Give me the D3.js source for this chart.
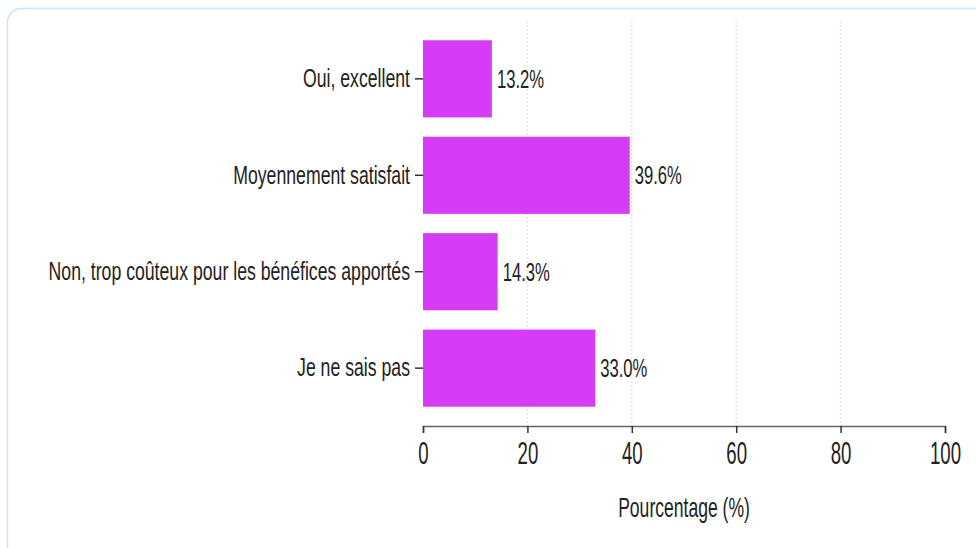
<!DOCTYPE html>
<html><head><meta charset="utf-8">
<script src="https://cdn.jsdelivr.net/npm/d3@7"></script>
<style>
html,body{margin:0;padding:0;background:#fff;}
svg{display:block;}
text{font-family:"Liberation Sans",Arial,sans-serif;fill:#222;}
</style></head>
<body>
<svg id="chart" width="976" height="548"></svg>
<script>
const categories = ["Oui, excellent","Moyennement satisfait","Non, trop coûteux pour les bénéfices apportés","Je ne sais pas"];
const values = [13.2, 39.6, 14.3, 33.0];
const xTicks = [0,20,40,60,80,100];
const xLabel = "Pourcentage (%)";

// horizontally condense text (reference uses a narrow, tall face)
function condense(sel, sx){
  sel.each(function(){
    const t = d3.select(this);
    const x0 = +(t.attr("x") || 0);
    t.attr("x", x0/sx).attr("transform", (t.attr("transform")||"") + ` scale(${sx},1)`);
  });
}

const svg = d3.select("#chart");
svg.append("rect").attr("x",7.5).attr("y",8.5).attr("width",1000).attr("height",600)
  .attr("rx",14).attr("fill","#fff").attr("stroke","#c6e6f7").attr("stroke-width",1.5);

const x = d3.scaleLinear().domain([0,100]).range([423,945]);
const y = d3.scaleBand().domain(categories).range([21,426]).padding(0.2);

const g = svg.append("g");
g.selectAll("line.grid").data(xTicks.slice(1,-1)).join("line")
  .attr("x1",d=>x(d)).attr("x2",d=>x(d)).attr("y1",21).attr("y2",426)
  .attr("stroke","#e6e6e6").attr("stroke-width",1.5).attr("stroke-dasharray","2,2");

g.selectAll("rect.bar").data(values).join("rect")
  .attr("x",x(0)).attr("y",(d,i)=>y(categories[i]))
  .attr("width",d=>x(d)-x(0)).attr("height",y.bandwidth())
  .attr("fill","#d63cf6");

const vals = g.selectAll("text.val").data(values).join("text")
  .attr("x",d=>x(d)+5).attr("y",(d,i)=>y(categories[i])+y.bandwidth()/2)
  .attr("dy","0.35em").attr("font-size",26).text(d=>d.toFixed(1)+"%");
condense(vals, 0.64);

const xAxis = svg.append("g").attr("transform","translate(0,426)")
  .call(d3.axisBottom(x).tickValues(xTicks).tickSize(7).tickPadding(9));
xAxis.select(".domain").attr("stroke","#666").attr("stroke-width",1.5);
xAxis.selectAll(".tick line").attr("stroke","#333").attr("stroke-width",1.5);
xAxis.selectAll(".tick text").attr("font-size",31).attr("font-family",null).attr("fill","#222");
condense(xAxis.selectAll(".tick text"), 0.6);

const yAxis = svg.append("g").attr("transform","translate(423,0)")
  .call(d3.axisLeft(y).tickSize(8).tickPadding(5));
yAxis.select(".domain").remove();
yAxis.selectAll(".tick line").attr("stroke","#333").attr("stroke-width",1.5);
yAxis.selectAll(".tick text").attr("font-size",26).attr("font-family",null).attr("fill","#222");
condense(yAxis.selectAll(".tick text"), 0.68);

const title = svg.append("text").attr("x",x(50)).attr("y",517).attr("text-anchor","middle")
  .attr("font-size",27).text(xLabel);
condense(title, 0.65);
</script>
</body></html>
